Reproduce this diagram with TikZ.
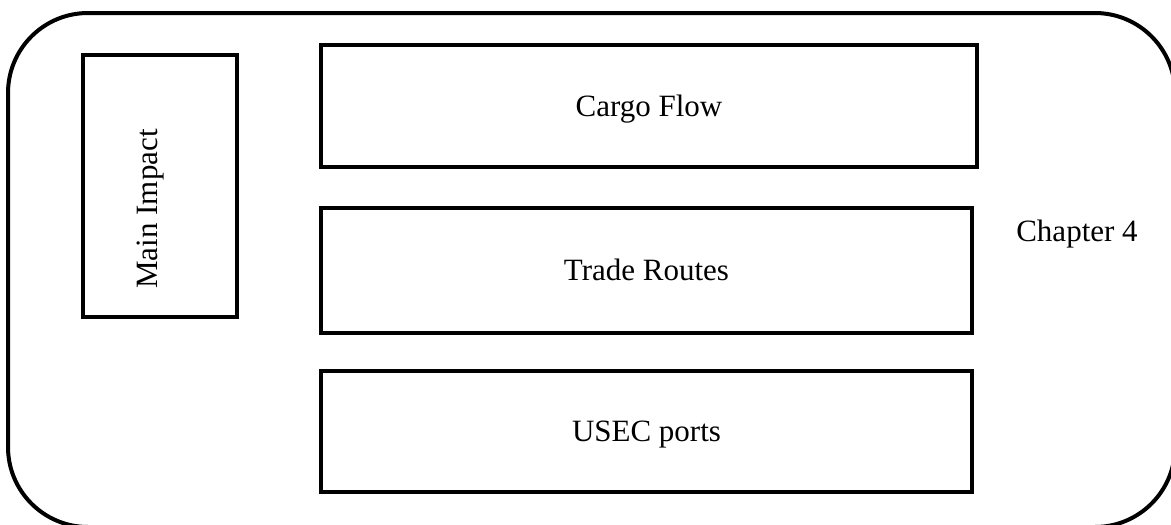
\documentclass[tikz,border=0pt]{standalone}
\usepackage{fontspec}
\setmainfont{Liberation Serif}
\begin{document}
\begin{tikzpicture}[x=1pt,y=-1pt,
  lbl/.style={font=\fontsize{31}{37}\selectfont, text height=20.5pt, text depth=0pt, inner sep=0pt},
  boxstyle/.style={draw, line width=4pt, rectangle, inner sep=0pt, lbl}]
\useasboundingbox (0,0) rectangle (1171,525);
\clip (0,0) rectangle (1171,525);
\draw[line width=4pt, rounded corners=80pt] (8,13) rectangle (1175,527);
\node[boxstyle, minimum width=154pt, minimum height=262pt] (mainbox) at (160,186) {};
\node[lbl, rotate=90] (mainlabel) at (147,209) {Main Impact};
\node[boxstyle, minimum width=656pt, minimum height=122pt] (cargo) at (649,106) {Cargo Flow};
\node[boxstyle, minimum width=651pt, minimum height=125pt] (trade) at (646.5,270.5) {Trade Routes};
\node[boxstyle, minimum width=651pt, minimum height=121pt] (usec) at (646.5,431.5) {USEC ports};
\node[lbl] (chapter) at (1077,231) {Chapter 4};
\end{tikzpicture}
\end{document}
